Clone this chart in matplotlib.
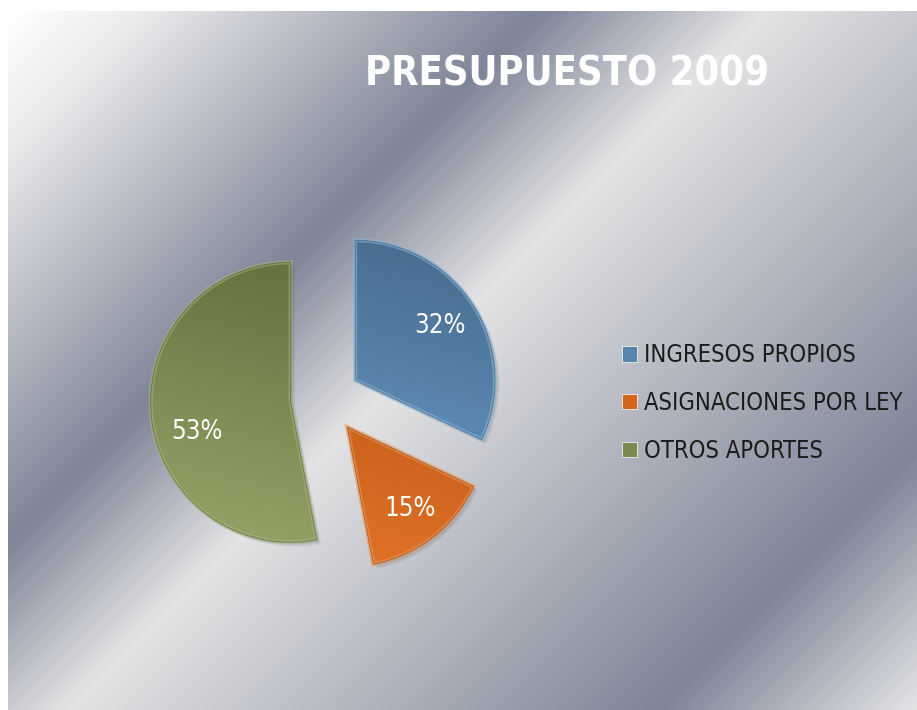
import os
import numpy as np
import matplotlib
matplotlib.use('Agg')
import matplotlib.pyplot as plt
from matplotlib import font_manager as fm
from matplotlib.colors import LinearSegmentedColormap
from matplotlib.patches import Wedge

# ---------------- data ----------------
title = 'PRESUPUESTO 2009'
categories = ['INGRESOS PROPIOS', 'ASIGNACIONES POR LEY', 'OTROS APORTES']
values = [32, 15, 53]

# ---------------- styles ----------------
base_colors = ['#5a85ad', '#d2661c', '#7b8a50']
grad_top = ['#46698c', '#b04e0f', '#5f6b3a']
grad_bot = ['#6c9fca', '#e7772a', '#98a569']
rim_colors = ['#8dbbe2', '#f39a58', '#aab77c']
label_angle_nudge = [0.0, 0.0, 12.0]   # degrees, label placement tweak
label_dist = [0.72, 0.74, 0.70]


def find_font(names):
    files = [f.fname for f in fm.fontManager.ttflist]
    try:
        files += fm.findSystemFonts()
    except Exception:
        pass
    for n in names:
        for p in files:
            if os.path.basename(p).lower() == n.lower():
                return p
    return None


cond_reg = find_font(['DejaVuSansCondensed.ttf', 'LiberationSansNarrow-Regular.ttf'])
cond_bold = find_font(['DejaVuSansCondensed-Bold.ttf', 'LiberationSansNarrow-Bold.ttf'])


def fprop(path, size, bold=False):
    if path:
        return fm.FontProperties(fname=path, size=size)
    return fm.FontProperties(family='DejaVu Sans', size=size * 0.9,
                             weight='bold' if bold else 'normal')


fp_legend = fprop(cond_reg, 17)
fp_pct = fprop(cond_reg, 18.5)
fp_title = fprop(cond_bold, 28.5, bold=True)

W, H = 917, 710
fig = plt.figure(figsize=(W / 100, H / 100), dpi=100)
fig.patch.set_facecolor('white')

# ---------------- metallic background ----------------
bg_ax = fig.add_axes([8 / W, 0, (W - 8) / W, (H - 11) / H])
bg_ax.set_axis_off()
nx, ny = W - 8, H - 11
xx, yy = np.meshgrid(np.arange(nx), np.arange(ny))
tt = (xx + yy) / (nx + ny)
stops = [(0.0, '#ffffff'), (0.08, '#ececed'), (0.33, '#7e8598'),
         (0.47, '#e4e4e5'), (0.84, '#7e8598'), (1.0, '#e3e4e6')]
silver = LinearSegmentedColormap.from_list('silver', stops)
bg_ax.imshow(tt, cmap=silver, vmin=0, vmax=1, aspect='auto',
             interpolation='bilinear', origin='upper')

# ---------------- pie ----------------
R = 140.0  # pixels per radius unit
ax = fig.add_axes([0, 0, 1, 1])
ax.patch.set_alpha(0)
center = (325.5 / R, (H - 399) / R)
wedges, texts = ax.pie(
    values, radius=1, center=center, explode=[0.25] * len(values),
    startangle=90, counterclock=False, colors=base_colors,
    wedgeprops=dict(linewidth=0))

total = float(sum(values))
for i, w in enumerate(wedges):
    cx, cy = w.center
    # soft shadow
    for k in range(4):
        sh = Wedge((cx + 0.010 + 0.007 * k, cy - 0.010 - 0.007 * k), w.r,
                   w.theta1, w.theta2, facecolor='#2a2f3a', edgecolor='none',
                   alpha=0.06, zorder=0.5)
        ax.add_patch(sh)
    # gradient fill
    gy, gx = np.mgrid[0:1:200j, 0:1:200j]
    g = 0.8 * gy + 0.2 * (1 - gx)
    cm = LinearSegmentedColormap.from_list('g%d' % i, [grad_top[i], grad_bot[i]])
    im = ax.imshow(g, cmap=cm, vmin=0, vmax=1, origin='upper',
                   extent=(cx - 1, cx + 1, cy - 1, cy + 1),
                   interpolation='bilinear', zorder=1.1)
    im.set_clip_path(w)
    # bevel rim
    rim = Wedge((cx, cy), w.r, w.theta1, w.theta2, facecolor='none',
                edgecolor=rim_colors[i], linewidth=3.0, alpha=0.55, zorder=1.2)
    ax.add_patch(rim)
    rim2 = Wedge((cx, cy), w.r, w.theta1, w.theta2, facecolor='none',
                 edgecolor='#000000', linewidth=0.8, alpha=0.25, zorder=1.25)
    ax.add_patch(rim2)
    # percentage label
    mid = np.deg2rad(0.5 * (w.theta1 + w.theta2) + label_angle_nudge[i])
    lx = cx + label_dist[i] * w.r * np.cos(mid)
    ly = cy + label_dist[i] * w.r * np.sin(mid)
    ax.text(lx, ly, '%d%%' % round(100 * values[i] / total), ha='center',
            va='center', color='white', fontproperties=fp_pct, zorder=5)

ax.set_xlim(0, W / R)
ax.set_ylim(0, H / R)
ax.set_aspect('equal')
ax.set_axis_off()

# ---------------- title ----------------
fig.text(567 / W, 1 - 86 / H, title, ha='center', va='baseline',
         fontproperties=fp_title, color='white')

# ---------------- legend ----------------
leg = fig.legend(wedges, categories, loc='center left',
                 bbox_to_anchor=(622 / W, 1 - 403 / H),
                 frameon=False, borderpad=0, borderaxespad=0,
                 handlelength=0.62, handleheight=0.62, handletextpad=0.3,
                 labelspacing=1.0, prop=fp_legend)
for txt in leg.get_texts():
    txt.set_color('#1c1c1c')
for h in leg.legend_handles:
    h.set_edgecolor('#ffffff')
    h.set_linewidth(0.5)

fig.savefig('out.png', dpi=100, facecolor='white')
